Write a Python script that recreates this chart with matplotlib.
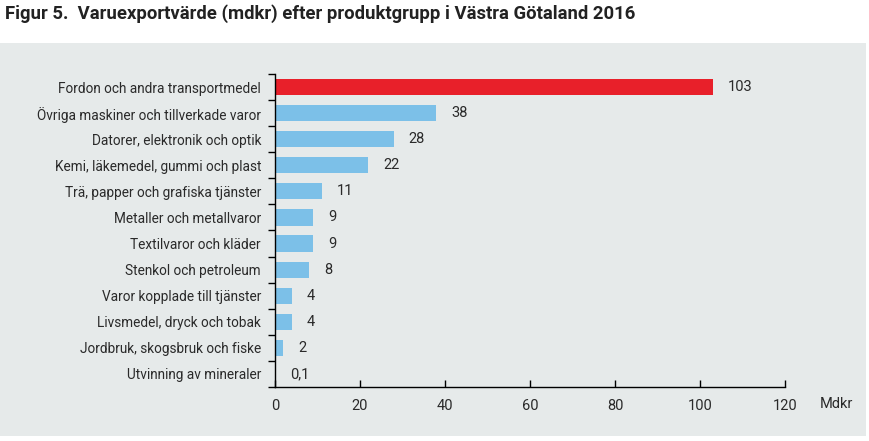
import numpy as np
import matplotlib.pyplot as plt
from matplotlib.patches import Rectangle

# data
kategorier = ["Fordon och andra transportmedel",
              "Övriga maskiner och tillverkade varor",
              "Datorer, elektronik och optik",
              "Kemi, läkemedel, gummi och plast",
              "Trä, papper och grafiska tjänster",
              "Metaller och metallvaror",
              "Textilvaror och kläder",
              "Stenkol och petroleum",
              "Varor kopplade till tjänster",
              "Livsmedel, dryck och tobak",
              "Jordbruk, skogsbruk och fiske",
              "Utvinning av mineraler"]
varden = [103, 38, 28, 22, 11, 9, 9, 8, 4, 4, 2, 0.1]
etiketter = ["103", "38", "28", "22", "11", "9", "9", "8", "4", "4", "2", "0,1"]
xticks = [0, 20, 40, 60, 80, 100, 120]

plt.rcParams['font.family'] = ['Roboto', 'DejaVu Sans']

bg = "#e6eaea"
blue = "#7cc0e8"
red = "#e8202a"
txt = "#2a2a2a"

fig = plt.figure(figsize=(8.7, 4.41), dpi=100)
fig.patch.set_facecolor("white")
# gray panel
fig.patches.append(Rectangle((0, 5/441), 866/870, (436-43)/441,
                             transform=fig.transFigure, facecolor=bg,
                             edgecolor="none", zorder=-5))
fig.text(5/870, 1 - 14/441, "Figur 5.  Varuexportvärde (mdkr) efter produktgrupp i Västra Götaland 2016",
         fontsize=13.3, fontweight="bold", va="center", ha="left", color="#222222")

ax = fig.add_axes([275/870, 1 - 387/441, 510/870, (387-74)/441])
ax.set_facecolor("none")

y = np.arange(len(kategorier))
colors = [red] + [blue] * (len(kategorier) - 1)
ax.barh(y, varden, height=0.62, color=colors, zorder=2)
for yi, v, lab in zip(y, varden, etiketter):
    ax.text(v + 3.5, yi, lab, va="center", ha="left", fontsize=10.5, color=txt)

ax.set_ylim(len(kategorier) - 0.5, -0.5)
ax.set_xlim(0, 120)
ax.set_yticks(y)
ax.set_yticklabels(kategorier, fontsize=9.8, color=txt)
ax.set_yticks(np.arange(-0.5, len(kategorier), 1), minor=True)
ax.tick_params(axis="y", which="major", length=0, pad=10)
ax.tick_params(axis="y", which="minor", length=5, direction="out", width=1)
ax.set_xticks(xticks)
ax.set_xticklabels([str(t) for t in xticks], fontsize=10.5, color=txt)
ax.tick_params(axis="x", direction="in", length=5, width=1, pad=9)
for s in ["top", "right"]:
    ax.spines[s].set_visible(False)
ax.spines["left"].set_linewidth(1)
ax.spines["bottom"].set_linewidth(1)
ax.text(820/870, 1 - 404/441, "Mdkr", transform=fig.transFigure, fontsize=10.5,
        va="center", ha="left", color=txt)

fig.savefig("out.png", dpi=100, facecolor=fig.get_facecolor())
